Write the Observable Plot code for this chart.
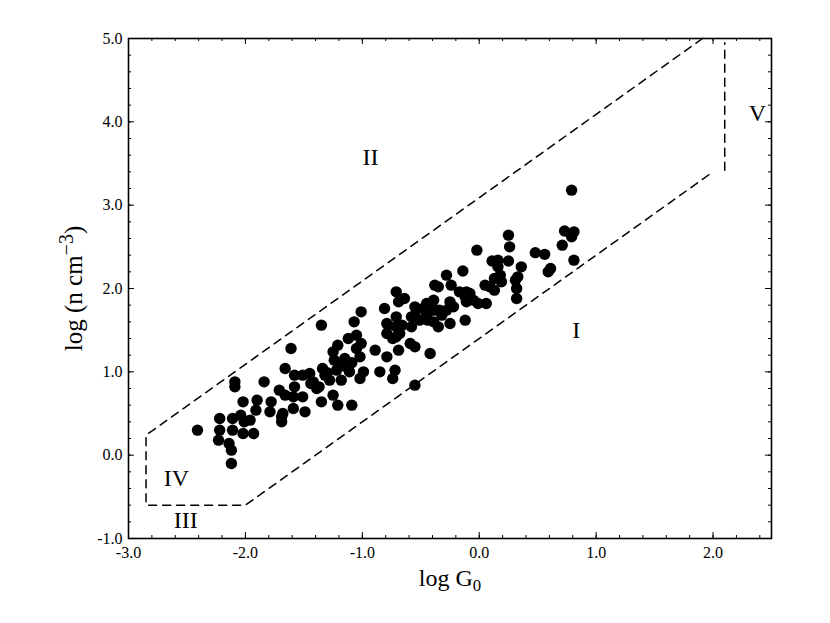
<!DOCTYPE html>
<html><head><meta charset="utf-8">
<script src="https://cdn.jsdelivr.net/npm/d3@7"></script>
<script src="https://cdn.jsdelivr.net/npm/@observablehq/plot@0.6"></script>
<style>body{margin:0;background:#fff;}</style>
</head><body><div id="chart"></div>
<script>
// data points: log G0 and log n
const logG0 = [
  -2.41,-2.22,-2.22,-2.23,-2.14,-2.12,-2.12,-2.11,-2.11,-2.02,-1.93,-2.02,-2.04,-2.01,-2.09,-2.09,
  -1.91,-1.79,-1.78,-1.69,-1.69,-1.84,-1.71,-1.66,-1.59,-1.59,-1.51,-1.49,-1.58,-1.44,-1.35,-1.37,
  -1.35,-1.61,-1.66,-1.58,-1.51,-1.45,-1.34,-1.32,-1.25,-1.24,-1.22,-1.28,-1.25,-1.21,-1.15,-1.14,
  -1.11,-1.09,-1.12,-1.05,-1.05,-1.02,-1.01,-1.07,-1.01,-0.99,-1.02,-0.89,-0.85,-0.79,-0.79,-0.79,
  -0.81,-0.71,-0.74,-0.69,-0.72,-0.74,-0.66,-0.59,-0.55,-0.55,-0.42,-0.69,-0.55,-0.58,-0.51,-0.45,
  -0.39,-0.35,-0.34,-0.41,-0.25,-0.25,-0.22,-0.12,-0.11,-0.05,-0.45,
  0.25,0.26,-0.02,0.48,0.56,0.73,0.81,0.79,0.71,0.81,0.11,0.16,0.25,0.36,0.61,0.59,-0.14,0.16,
  0.18,0.13,0.19,0.33,0.31,0.32,0.32,0.05,0.09,0.13,-0.28,-0.38,-0.35,-0.24,-0.17,-0.11,-0.12,
  -0.08,-0.01,0.06,-0.71,-0.64,-0.39,-0.48,-0.28,-0.32,-0.71,-0.68,-0.58,0.79,
  -1.19,-1.09,-1.30,-1.18,-1.21,-1.68,-1.42,-1.39,-0.71,-0.55,-0.78,-0.44,-0.38,-1.90,-1.96
];
const logN = [
  0.30,0.44,0.30,0.18,0.14,0.06,-0.10,0.30,0.44,0.26,0.26,0.64,0.48,0.40,0.82,0.88,
  0.54,0.52,0.64,0.46,0.40,0.88,0.78,0.72,0.70,0.56,0.70,0.52,0.82,0.86,0.64,0.82,
  1.56,1.28,1.04,0.96,0.96,0.98,1.04,0.96,1.24,1.14,1.02,0.90,0.72,0.60,1.16,1.06,
  1.00,0.60,1.40,1.44,1.28,1.18,1.34,1.60,1.72,1.00,0.92,1.26,1.00,1.18,1.58,1.46,
  1.76,1.66,1.40,1.26,1.02,0.92,1.56,1.34,1.30,0.84,1.22,1.84,1.78,1.66,1.62,1.68,
  1.60,1.54,1.74,1.74,1.84,1.58,1.78,1.62,1.84,1.86,1.82,
  2.64,2.50,2.46,2.43,2.41,2.69,2.68,2.62,2.52,2.34,2.33,2.34,2.33,2.26,2.24,2.20,2.21,2.26,
  2.16,2.12,2.08,2.14,2.10,2.00,1.88,2.04,2.02,1.98,2.16,2.04,2.02,2.04,1.96,1.96,1.90,
  1.94,1.82,1.82,1.96,1.88,1.86,1.76,1.74,1.68,1.54,1.46,1.54,3.18,
  1.08,1.11,0.99,0.90,1.32,0.50,0.88,0.80,1.42,1.68,1.56,1.62,1.74,0.66,0.42
];

// region boundaries (dashed)
const boundA_x = [1.91, -2.85, -2.85, -2.0, 2.0];
const boundA_y = [5.0, 0.24, -0.6, -0.6, 3.4];
const boundB_x = [2.1, 2.1];
const boundB_y = [3.42, 4.95];

// region labels
const regionText = ["II", "I", "IV", "III", "V"];
const regionX = [-0.93, 0.83, -2.59, -2.51, 2.38];
const regionY = [3.57, 1.50, -0.28, -0.78, 4.10];

// axes
const majorX = [-3, -2, -1, 0, 1, 2];
const majorY = [-1, 0, 1, 2, 3, 4, 5];
const minorX = d3.range(-15, 13).map(i => i / 5);
const minorY = d3.range(-5, 26).map(i => i / 5);
const xTitleMain = "log G", xTitleSub = "0";
const yTitleMain = "log (n cm", yTitleSup = "\u22123", yTitleEnd = ")";

const points = logG0.map((x, i) => ({x, y: logN[i]}));
const bA = boundA_x.map((x, i) => ({x, y: boundA_y[i]}));
const bB = boundB_x.map((x, i) => ({x, y: boundB_y[i]}));
const regions = regionText.map((t, i) => ({t, x: regionX[i], y: regionY[i]}));

const W = 830, H = 623, mL = 128, mR = 59, mT = 38, mB = 85;
const fw = W - mL - mR, fh = H - mT - mB;
const minorLen = 3, majorLen = 6;
const fmt = d => d.toFixed(1);
const tk = {stroke: "black", strokeWidth: 1};

const chart = Plot.plot({
  width: W, height: H,
  marginLeft: mL, marginRight: mR, marginTop: mT, marginBottom: mB,
  style: {fontFamily: "Liberation Serif, Times New Roman, serif", fontSize: "16px", background: "white", color: "black"},
  x: {domain: [-3, 2.5]},
  y: {domain: [-1, 5]},
  marks: [
    Plot.line(bA, {x: "x", y: "y", stroke: "black", strokeWidth: 1.5, strokeDasharray: "8,6"}),
    Plot.line(bB, {x: "x", y: "y", stroke: "black", strokeWidth: 1.5, strokeDasharray: "8,6"}),
    Plot.dot(points, {x: "x", y: "y", r: 5.7, fill: "black", stroke: "none"}),
    Plot.text(regions, {x: "x", y: "y", text: "t", fontSize: 24, fill: "black"}),
    // inward ticks on the four sides
    Plot.ruleX(minorX, {...tk, insetTop: fh - minorLen}),
    Plot.ruleX(majorX, {...tk, insetTop: fh - majorLen}),
    Plot.ruleX(minorX, {...tk, insetBottom: fh - minorLen}),
    Plot.ruleX(majorX, {...tk, insetBottom: fh - majorLen}),
    Plot.ruleY(minorY, {...tk, insetRight: fw - minorLen}),
    Plot.ruleY(majorY, {...tk, insetRight: fw - majorLen}),
    Plot.ruleY(minorY, {...tk, insetLeft: fw - minorLen}),
    Plot.ruleY(majorY, {...tk, insetLeft: fw - majorLen}),
    // tick labels
    Plot.axisX(majorX, {anchor: "bottom", tickSize: 0, tickPadding: 8, tickFormat: fmt, fontSize: 16, label: null}),
    Plot.axisY(majorY, {anchor: "left", tickSize: 0, tickPadding: 6, tickFormat: fmt, fontSize: 16, label: null}),
    Plot.frame({stroke: "black", strokeWidth: 1.6}),
    Plot.text([xTitleMain + xTitleSub], {frameAnchor: "bottom", textAnchor: "middle", dy: 40, lineAnchor: "middle", fontSize: 24, fill: "black"}),
    Plot.text([yTitleMain + yTitleSup + yTitleEnd], {frameAnchor: "left", textAnchor: "middle", dx: -55, rotate: -90, lineAnchor: "middle", fontSize: 25, fill: "black"})
  ]
});
document.getElementById("chart").appendChild(chart);

// sub/superscripts in axis titles
d3.select(chart).selectAll("text").each(function() {
  const t = this.textContent;
  if (t === xTitleMain + xTitleSub) {
    const s = d3.select(this); s.text(null);
    s.append("tspan").text(xTitleMain);
    s.append("tspan").attr("dy", "0.3em").attr("font-size", "70%").text(xTitleSub);
  } else if (t === yTitleMain + yTitleSup + yTitleEnd) {
    const s = d3.select(this); s.text(null);
    s.append("tspan").text(yTitleMain);
    s.append("tspan").attr("dy", "-0.45em").attr("font-size", "80%").text(yTitleSup);
    s.append("tspan").attr("dy", "0.36em").text(yTitleEnd);
  }
});
</script>
</body></html>
